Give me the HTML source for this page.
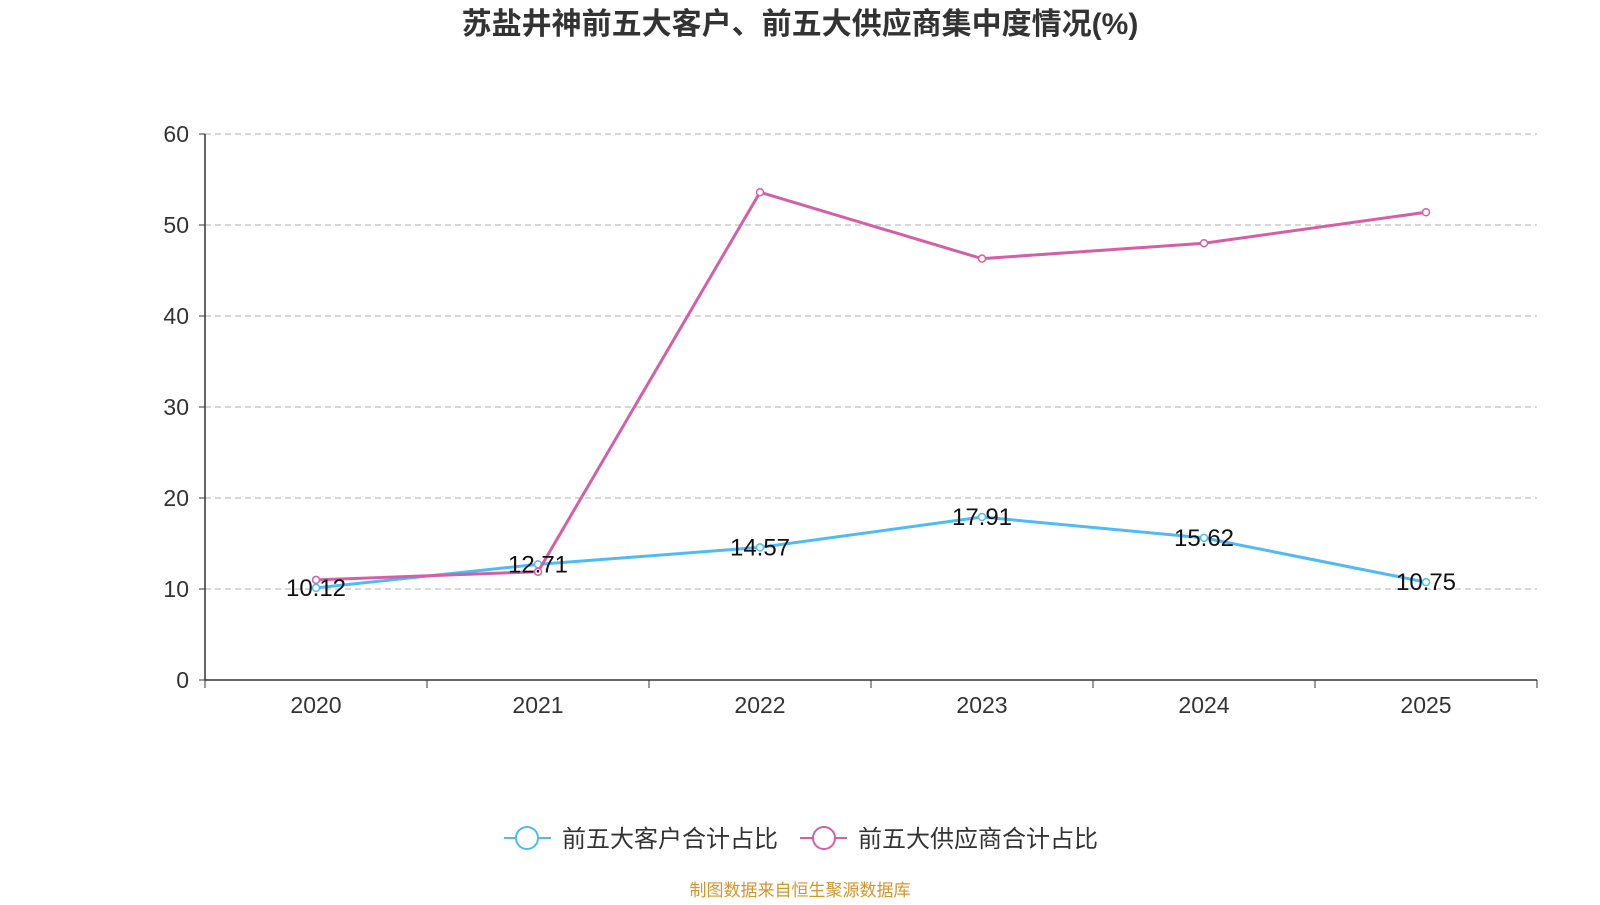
<!DOCTYPE html>
<html><head><meta charset="utf-8"><style>
body{margin:0;width:1600px;height:900px;background:#fff;overflow:hidden;font-family:"Liberation Sans","Noto Sans CJK SC",sans-serif}
</style></head><body>
<svg id="chart" width="1600" height="900" xmlns="http://www.w3.org/2000/svg">
<text x="800" y="34" text-anchor="middle" font-size="30" font-weight="bold" fill="#333" font-family="Liberation Sans, Noto Sans CJK SC, sans-serif">苏盐井神前五大客户、前五大供应商集中度情况(%)</text>
<g id="grid"></g><g id="axes"></g><g id="series"></g>
<g>
<g>
<line x1="504" y1="838" x2="551" y2="838" stroke="#4fbbf3" stroke-width="2"/>
<circle cx="527" cy="838" r="11" fill="#fff" stroke="#4fbbf3" stroke-width="2"/>
<text x="562" y="847" font-size="24" fill="#333">前五大客户合计占比</text></g>
<g>
<line x1="800" y1="838" x2="847" y2="838" stroke="#d45fa6" stroke-width="2"/>
<circle cx="824" cy="838" r="11" fill="#fff" stroke="#d45fa6" stroke-width="2"/>
<text x="858" y="847" font-size="24" fill="#333">前五大供应商合计占比</text></g>
</g>
<text x="800" y="896" text-anchor="middle" font-size="17" fill="#d4942a">制图数据来自恒生聚源数据库</text>
</svg>
<script>
const categories=["2020","2021","2022","2023","2024","2025"];
const customerValues=[10.12,12.71,14.57,17.91,15.62,10.75];
const supplierValues=[11.0,11.9,53.6,46.3,48.0,51.4];
const yTicks=[0,10,20,30,40,50,60];
const NS="http://www.w3.org/2000/svg";
const L=205,R=1537,T=134,B=680,YMAX=60;
const bw=(R-L)/categories.length;
const x=i=>L+bw*(i+0.5);
const y=v=>B-(v/YMAX)*(B-T);
function mk(tag,attrs,parent,txt){const e=document.createElementNS(NS,tag);for(const k in attrs)e.setAttribute(k,attrs[k]);if(txt!==undefined)e.textContent=txt;document.getElementById(parent).appendChild(e);return e;}
yTicks.forEach(t=>{
  if(t>0){const g=mk('line',{x1:L,x2:R,y1:y(t),y2:y(t),stroke:'#ccc','stroke-dasharray':'6,4','stroke-width':1.5},'grid');
  
  }
  const tl=mk('text',{x:L-16,y:y(t)+8,'text-anchor':'end','font-size':'23',fill:'#333'},'axes',String(t));
  
  
  mk('line',{x1:L-6,x2:L,y1:y(t),y2:y(t),stroke:'#333'},'axes');
});
const ya=mk('line',{x1:L,x2:L,y1:T,y2:B,stroke:'#333','stroke-width':1.5},'axes');


const xa=mk('line',{x1:L,x2:R,y1:B,y2:B,stroke:'#333','stroke-width':1.5},'axes');


for(let i=0;i<=categories.length;i++)mk('line',{x1:L+bw*i,x2:L+bw*i,y1:B,y2:B+8,stroke:'#333'},'axes');
categories.forEach((c,i)=>{const t=mk('text',{x:x(i),y:B+33,'text-anchor':'middle','font-size':'23',fill:'#333'},'axes',c);

});
function series(vals,color,name){
  const p=mk('polyline',{points:vals.map((v,i)=>x(i)+','+y(v)).join(' '),fill:'none',stroke:color,'stroke-width':3},'series');
  
  
  vals.forEach((v,i)=>{const c=mk('circle',{cx:x(i),cy:y(v),r:3.5,fill:'#fff',stroke:color,'stroke-width':1.5},'series');
  
  });
}
series(customerValues,'#4fbbf3','customers');
series(supplierValues,'#d45fa6','suppliers');
customerValues.forEach((v,i)=>{const t=mk('text',{x:x(i),y:y(v)+8,'text-anchor':'middle','font-size':'24',fill:'#111'},'series',v.toFixed(2));

});
</script>
</body></html>
